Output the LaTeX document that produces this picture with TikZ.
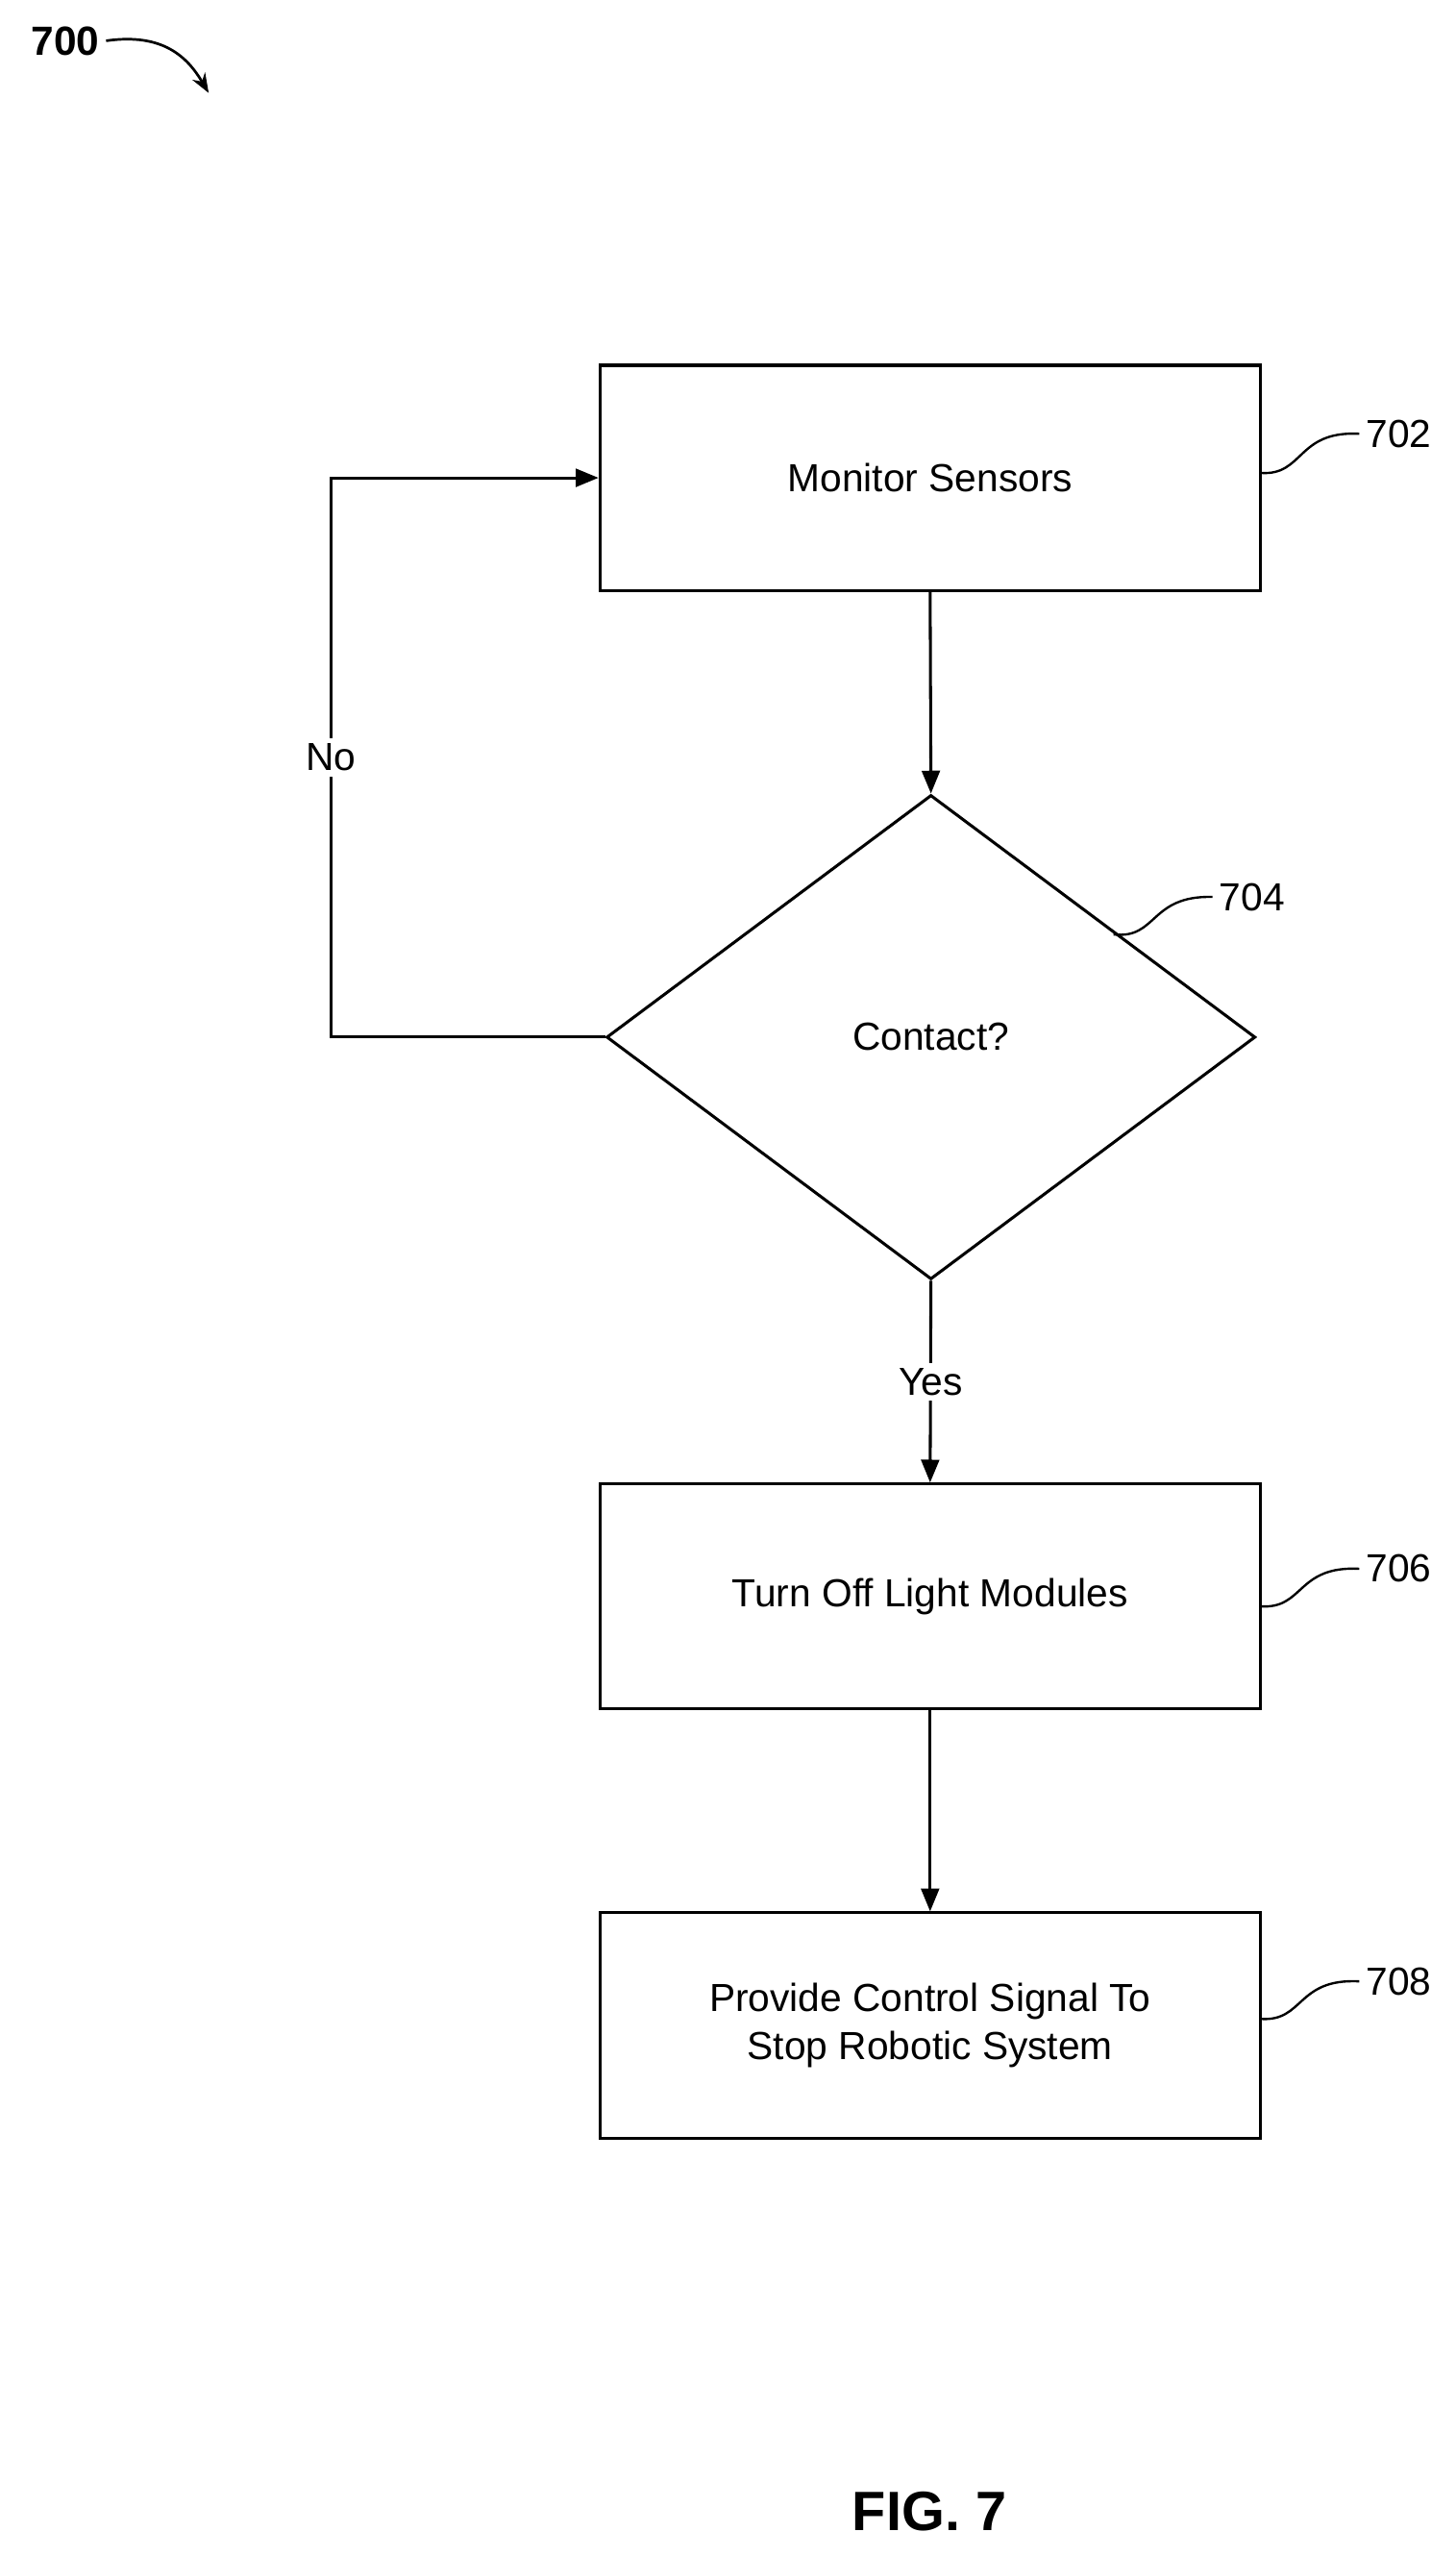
\documentclass[tikz,border=0pt]{standalone}
\usepackage{fontspec}
\setmainfont{Liberation Sans}
\usetikzlibrary{arrows.meta,shapes.geometric}
\begin{document}
\begin{tikzpicture}[x=1pt,y=-1pt,line width=1.8pt,
  box/.style={draw,rectangle,minimum width=405pt,minimum height=138pt,align=center,font=\fontsize{24}{29}\selectfont},
  lbl/.style={font=\fontsize{24}{29}\selectfont},
  arr/.style={-{Triangle[length=14pt,width=11pt]}}]
\useasboundingbox (0,0) rectangle (893,1568);
\node[box] (b702) at (570.5,293) {Monitor Sensors};
\node[draw,diamond,minimum width=398pt,minimum height=297pt,inner sep=0pt,font=\fontsize{24}{29}\selectfont] (d704) at (571,636) {};
\node[lbl] at (571,636) {Contact?};
\node[box] (b706) at (570.5,979) {Turn Off Light Modules};
\node[box] (b708) at (570.5,1242) {Provide Control Signal To\\Stop Robotic System};
\draw[arr] (b702.south) -- (d704.north);
\draw[arr] (d704.south) -- node[fill=white,lbl,inner sep=3pt,pos=0.5] {Yes} (b706.north);
\draw[arr] (b706.south) -- (b708.north);
\coordinate (c1) at (203,636);
\coordinate (c2) at (203,293);
\draw[arr] (d704.west) -- (c1) -- node[fill=white,lbl,pos=0.5] (no) {No} (c2) -- (b702.west);
\node[lbl] (l702) at (858,266) {702};
\node[lbl] (l704) at (768,550) {704};
\node[lbl] (l706) at (858,962) {706};
\node[lbl] (l708) at (858,1215) {708};
\draw[line width=1.4pt] (773,290) .. controls (800,292) and (795,264) .. (l702.west);
\draw[line width=1.4pt] (683,573) .. controls (710,576) and (705,549) .. (l704.west);
\draw[line width=1.4pt] (773,985) .. controls (800,987) and (795,960) .. (l706.west);
\draw[line width=1.4pt] (773,1238) .. controls (800,1240) and (795,1213) .. (l708.west);
\node[font=\fontsize{25}{30}\selectfont\bfseries] (n700) at (40,25) {700};
\draw[line width=1.6pt,-{Stealth[length=12pt,width=9pt]}] (n700.east) .. controls (100,20) and (115,35) .. (128,57);
\node[font=\fontsize{34}{40}\selectfont\bfseries] (fig) at (570,1540) {FIG. 7};
\end{tikzpicture}
\end{document}
